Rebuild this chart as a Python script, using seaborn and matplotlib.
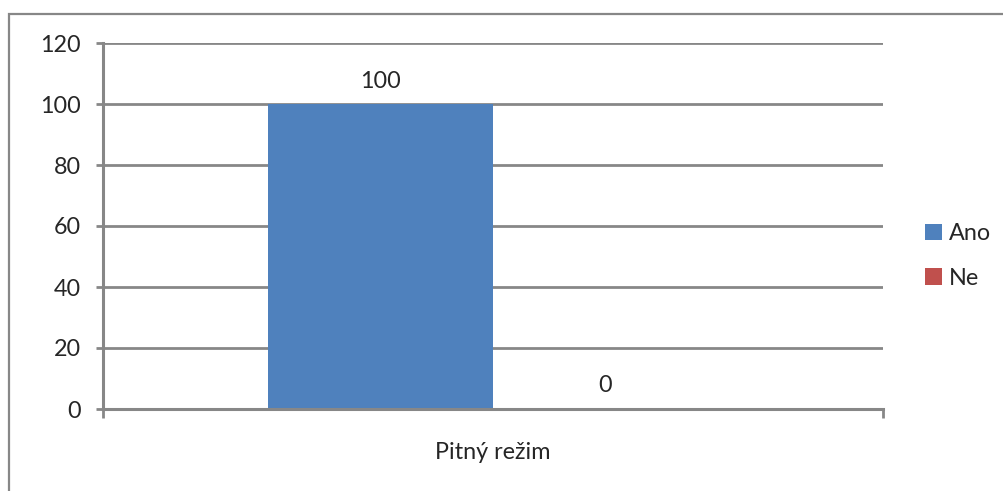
import matplotlib
matplotlib.use("Agg")
import matplotlib.pyplot as plt
from matplotlib.patches import Rectangle
import seaborn as sns
import pandas as pd

# Survey answer for the drinking regime question
categories = ["Pitný režim"]
answers = ["Ano", "Ne"]
values = [100, 0]
colors = ["#4F81BD", "#C0504D"]
y_ticks = [0, 20, 40, 60, 80, 100, 120]

df = pd.DataFrame({"kategorie": categories * len(answers),
                   "odpoved": answers,
                   "hodnota": values})

sns.set_style("white")
plt.rcParams["font.family"] = ["Lato", "DejaVu Sans"]

W, H = 1004, 491
fig = plt.figure(figsize=(W / 100, H / 100), dpi=100)
ax = fig.add_axes([103 / W, 1 - 409 / H, 780 / W, 366 / H])

grid_col = "#878787"
fs = 16.8

sns.barplot(data=df, x="kategorie", y="hodnota", hue="odpoved",
            palette=colors, width=0.577, saturation=1, ax=ax,
            errorbar=None, legend=True, linewidth=0)

ax.set_xlim(-0.5, 0.5)
ax.set_ylim(0, 120)
ax.set_yticks(y_ticks)
ax.set_yticklabels([str(t) for t in y_ticks], fontsize=fs)
ax.yaxis.grid(True, color=grid_col, linewidth=2)
ax.set_axisbelow(True)
ax.set_xlabel("")
ax.set_ylabel("")

for side in ("top", "right"):
    ax.spines[side].set_visible(False)
for side in ("left", "bottom"):
    ax.spines[side].set_color(grid_col)
    ax.spines[side].set_linewidth(2.2)

ax.tick_params(axis="y", length=5, width=2, color=grid_col, pad=11, left=True)
ax.tick_params(axis="x", which="major", length=0, pad=24, labelsize=fs)
ax.set_xticks([-0.5, 0.5], minor=True)
ax.tick_params(axis="x", which="minor", length=6.5, width=2, color=grid_col, bottom=True)

# value labels above each bar
for container, v in zip(ax.containers, values):
    for bar in container:
        ax.annotate(f"{v}", (bar.get_x() + bar.get_width() / 2, bar.get_height()),
                    xytext=(0, 9), textcoords="offset points",
                    ha="center", va="bottom", fontsize=fs)

handles, labels = ax.get_legend_handles_labels()
ax.legend(handles, labels, loc="center left", bbox_to_anchor=(925 / W, 1 - 256 / H),
          bbox_transform=fig.transFigure, frameon=False, fontsize=fs,
          handlelength=0.72, handleheight=0.72, handletextpad=0.3,
          labelspacing=1.0, borderpad=0, borderaxespad=0)

# chart area outline
fig.patches.append(Rectangle((9 / W, -0.1), 1.2, 1 - 14 / H + 0.1,
                             transform=fig.transFigure, fill=False,
                             edgecolor=grid_col, linewidth=1.6))

fig.savefig("out.png", dpi=100)
